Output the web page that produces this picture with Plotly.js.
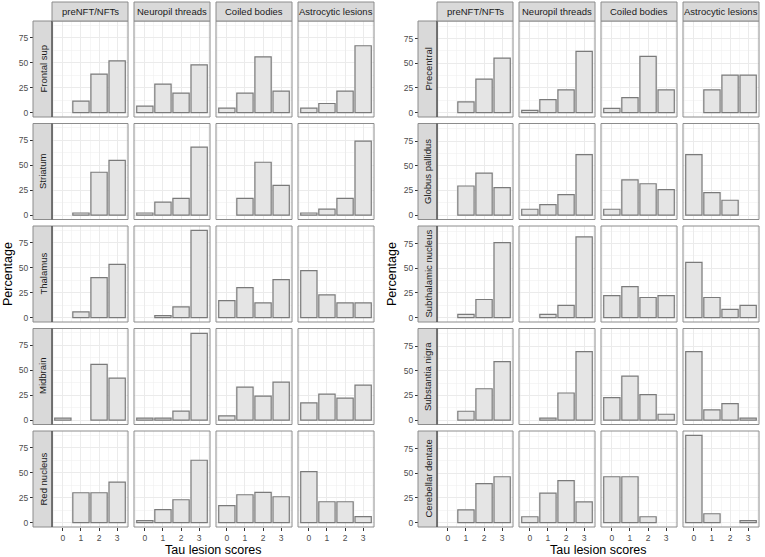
<!DOCTYPE html>
<html><head><meta charset="utf-8">
<script src="https://cdn.plot.ly/plotly-3.0.1.min.js"></script>
<style>body{margin:0;background:#fff}</style></head>
<body><div id="chart" style="width:765px;height:557px"></div>
<script>
// ---- data ----
const scores = [0, 1, 2, 3];
const lesionTypes = ["preNFT/NFTs", "Neuropil threads", "Coiled bodies", "Astrocytic lesions"];
const leftRegions = ["Frontal sup", "Striatum", "Thalamus", "Midbrain", "Red nucleus"];
const rightRegions = ["Precentral", "Globus pallidus", "Subthalamic nucleus", "Substantia nigra", "Cerebellar dentate"];
// each: [preNFT/NFTs, Neuropil threads, Coiled bodies, Astrocytic lesions], values by score 0..3 (%)
const frontalSup   = [[null, 11.4, 38.6, 51.8], [6.4, 28.6, 19.5, 47.8], [4.4, 19.5, 55.8, 21.5], [4.4, 9.1, 21.5, 66.9]];
const striatum     = [[null, 2.1, 42.9, 54.8], [2.1, 12.9, 16.8, 68.0], [null, 16.8, 52.9, 29.7], [2.1, 5.9, 16.8, 74.0]];
const thalamus     = [[null, 5.7, 40.0, 53.3], [null, 2.0, 10.7, 87.3], [17.0, 30.0, 14.7, 38.0], [47.0, 22.7, 14.7, 14.7]];
const midbrain     = [[2.0, null, 55.8, 42.0], [2.0, 2.0, 8.9, 86.9], [4.3, 33.0, 24.1, 38.0], [17.2, 26.1, 22.1, 35.0]];
const redNucleus   = [[null, 29.9, 29.9, 40.5], [2.0, 12.9, 22.9, 62.4], [16.9, 27.9, 30.2, 25.9], [51.1, 20.9, 20.9, 6.0]];
const precentral   = [[null, 10.9, 33.9, 55.3], [2.4, 13.2, 23.1, 62.1], [4.4, 15.3, 57.0, 23.1], [null, 23.1, 38.0, 38.0]];
const globusPall   = [[null, 29.5, 42.5, 27.8], [6.0, 10.7, 20.8, 61.3], [6.0, 35.8, 31.8, 25.8], [61.3, 22.8, 15.1, null]];
const subthalamic  = [[null, 3.3, 18.4, 76.0], [null, 3.3, 12.4, 81.7], [22.4, 31.5, 20.4, 22.4], [55.9, 20.4, 8.4, 12.4]];
const substNigra   = [[null, 9.0, 31.8, 59.3], [null, 2.0, 27.5, 69.3], [22.8, 44.5, 25.8, 6.0], [69.3, 10.4, 16.7, 2.0]];
const cerebDentate = [[null, 13.0, 39.5, 46.5], [6.0, 29.8, 42.5, 21.1], [46.5, 46.5, 6.0, null], [88.4, 9.0, null, 2.0]];
const yTickVals = [0, 25, 50, 75];

// ---- layout geometry ----
const W = 765, H = 557;
const colW = 76, rowTop0 = 21, rowStep = 102.5, rowH = 96, stripTop = 2;
const panels = [
  {regions: leftRegions, data: [frontalSup, striatum, thalamus, midbrain, redNucleus],
   colX: [52, 134, 216, 298], stripX: [33, 52], titleX: 8, yRange: [-4.4, 91.7]},
  {regions: rightRegions, data: [precentral, globusPall, subthalamic, substNigra, cerebDentate],
   colX: [437, 519, 601, 683], stripX: [418, 437], titleX: 392, yRange: [-4.4, 92.8]}
];
const px = v => v / W, py = v => 1 - v / H;

const traces = [], shapes = [], annotations = [];
const layout = {
  width: W, height: H, autosize: false,
  margin: {l: 0, r: 0, t: 0, b: 0},
  paper_bgcolor: '#fff', plot_bgcolor: '#fff',
  showlegend: false, bargap: 0,
  font: {family: 'Liberation Sans, Arial, sans-serif', color: '#4D4D4D'}
};
function ann(x, y, text, size, color, angle) {
  annotations.push({xref: 'paper', yref: 'paper', x: px(x), y: py(y), text: text,
    xanchor: 'center', yanchor: 'middle', textangle: angle || 0, showarrow: false,
    font: {size: size, color: color}});
}
let k = 0;
panels.forEach(p => {
  p.data.forEach((regionData, r) => {
    const y0 = rowTop0 + r * rowStep, y1 = y0 + rowH;
    regionData.forEach((vals, c) => {
      k++;
      const sx = k === 1 ? '' : String(k);
      const x0 = p.colX[c], x1 = x0 + colW;
      traces.push({
        type: 'bar', x: scores, y: vals, xaxis: 'x' + sx, yaxis: 'y' + sx,
        width: 0.9, hoverinfo: 'skip',
        marker: {color: '#E5E5E5', line: {color: '#7A7A7A', width: 1.2}}
      });
      layout['xaxis' + sx] = {
        domain: [px(x0), px(x1)], range: [-0.6, 3.6], anchor: 'y' + sx,
        tickmode: 'array', tickvals: scores,
        showgrid: true, gridcolor: '#EBEBEB', gridwidth: 1,
        minor: {dtick: 0.5, tick0: 0, showgrid: true, gridcolor: '#F0F0F0', gridwidth: 0.6},
        zeroline: false, showline: false, fixedrange: true,
        showticklabels: r === 4, ticks: r === 4 ? 'outside' : '', ticklen: 3,
        tickcolor: '#333333', tickwidth: 1, tickfont: {size: 8.5, color: '#4D4D4D'}
      };
      const ya = {
        domain: [py(y1), py(y0)], range: p.yRange,
        tickmode: 'array', tickvals: yTickVals,
        showgrid: true, gridcolor: '#EBEBEB', gridwidth: 1,
        minor: {dtick: 12.5, tick0: 0, showgrid: true, gridcolor: '#F0F0F0', gridwidth: 0.6},
        zeroline: false, showline: false, fixedrange: true,
        showticklabels: c === 0, ticks: c === 0 ? 'outside' : '', ticklen: 3,
        tickcolor: '#333333', tickwidth: 1, tickfont: {size: 8.5, color: '#4D4D4D'}
      };
      if (c === 0) { ya.anchor = 'free'; ya.position = px(p.stripX[0]); }
      else { ya.anchor = 'x' + sx; }
      layout['yaxis' + sx] = ya;
      shapes.push({type: 'rect', xref: 'paper', yref: 'paper', x0: px(x0), x1: px(x1), y0: py(y1), y1: py(y0),
        line: {color: '#8C8C8C', width: 1}, fillcolor: 'rgba(0,0,0,0)', layer: 'above'});
    });
    // row strip
    shapes.push({type: 'rect', xref: 'paper', yref: 'paper', x0: px(p.stripX[0]), x1: px(p.stripX[1]), y0: py(y1), y1: py(y0),
      line: {color: '#8C8C8C', width: 1}, fillcolor: '#D9D9D9', layer: 'above'});
    shapes.push({type: 'line', xref: 'paper', yref: 'paper', x0: px(p.stripX[1]), x1: px(p.stripX[1]), y0: py(y1), y1: py(y0),
      line: {color: '#333333', width: 1}, layer: 'above'});
    ann((p.stripX[0] + p.stripX[1]) / 2, (y0 + y1) / 2, p.regions[r], 9.5, '#1A1A1A', -90);
  });
  // column strips
  p.colX.forEach((x0, c) => {
    shapes.push({type: 'rect', xref: 'paper', yref: 'paper', x0: px(x0), x1: px(x0 + colW), y0: py(rowTop0), y1: py(stripTop),
      line: {color: '#8C8C8C', width: 1}, fillcolor: '#D9D9D9', layer: 'above'});
    ann(x0 + colW / 2, (stripTop + rowTop0) / 2, lesionTypes[c], 9.5, '#1A1A1A');
  });
  const lastBottom = rowTop0 + 4 * rowStep + rowH;
  ann(p.titleX, (rowTop0 + lastBottom) / 2, 'Percentage', 12.5, '#000', -90);
  ann((p.colX[0] + p.colX[3] + colW) / 2, 550, 'Tau lesion scores', 12.5, '#000');
});
layout.shapes = shapes;
layout.annotations = annotations;
Plotly.newPlot('chart', traces, layout, {staticPlot: true, displayModeBar: false});
</script>
</body></html>
